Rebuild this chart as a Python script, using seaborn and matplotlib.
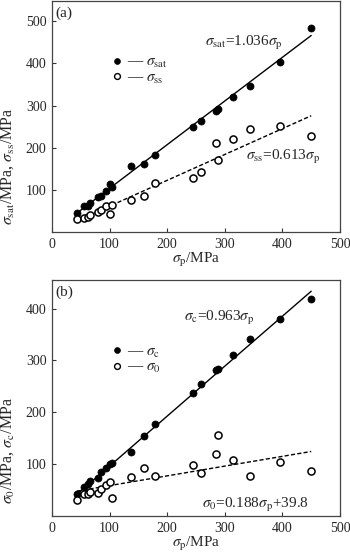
import numpy as np
import pandas as pd
import matplotlib
matplotlib.use("Agg")
import matplotlib.pyplot as plt
from matplotlib.lines import Line2D
import seaborn as sns

# ---- data ----
sigma_p = [43, 56, 62, 66, 79, 85, 94, 101, 105, 138, 160, 179,
           244, 258, 285, 288, 314, 344, 395, 449]
sigma_sat = [45, 61, 62, 68, 83, 86, 97, 113, 106, 157, 162, 182,
             249, 264, 286, 292, 320, 347, 403, 485]
sigma_ss = [31, 33, 35, 40, 47, 53, 61, 43, 65, 77, 86, 117,
            127, 142, 212, 170, 220, 245, 252, 227]
sigma_c = [43, 56, 61, 67, 74, 84, 92, 100, 103, 124, 155, 177,
           238, 254, 281, 284, 310, 342, 379, 418]
sigma_0 = [31, 43, 43, 47, 45, 52, 60, 66, 35, 76, 92, 77,
           99, 83, 119, 156, 108, 78, 105, 86]

fit_range = [43, 450]
slope_sat = 1.036
slope_ss = 0.613
slope_c = 0.963
slope_0, icpt_0 = 0.188, 39.8

sns.set_theme(style="ticks")
plt.rcParams['font.family'] = ['Liberation Serif', 'DejaVu Serif']
plt.rcParams['mathtext.fontset'] = 'stix'
plt.rcParams['font.size'] = 10.5

fig = plt.figure(figsize=(3.5, 5.55), dpi=100)
ax1 = fig.add_axes([52/350, 323/555, 288/350, 231/555])
ax2 = fig.add_axes([52/350, 39/555, 288/350, 236/555])

fx = np.array(fit_range, dtype=float)
lines_a = pd.DataFrame({'x': fx, 'sat': slope_sat*fx, 'ss': slope_ss*fx})
lines_b = pd.DataFrame({'x': fx, 'c': slope_c*fx, 'o': slope_0*fx + icpt_0})
df = pd.DataFrame({'p': sigma_p, 'sat': sigma_sat, 'ss': sigma_ss,
                   'c': sigma_c, 'o': sigma_0})

dash = (0, (3, 1.6))
ms = 26
TXT = 11

def panel(ax, filled, opened, lines, ylim, yticks):
    sns.lineplot(data=lines, x='x', y=filled, ax=ax, color='black', lw=1.0)
    sns.lineplot(data=lines, x='x', y=opened, ax=ax, color='black', lw=1.0,
                 linestyle=dash)
    sns.scatterplot(data=df, x='p', y=filled, ax=ax, color='black',
                    s=ms, edgecolor='black', linewidth=0.5, zorder=3)
    sns.scatterplot(data=df, x='p', y=opened, ax=ax, facecolor='white',
                    s=ms, edgecolor='black', linewidth=1.1, zorder=3)
    ax.set_xlim(0, 500)
    ax.set_ylim(*ylim)
    ax.set_xticks([0, 100, 200, 300, 400, 500])
    ax.set_yticks(yticks)
    ax.tick_params(direction='in', length=3, width=0.8, labelsize=10,
                   pad=4, color='#333333')
    for s in ax.spines.values():
        s.set_color('#444444')
        s.set_linewidth(0.9)
    ax.set_xlabel(r'$\sigma_{\rm p}$/MPa', fontsize=TXT, labelpad=0)

panel(ax1, 'sat', 'ss', lines_a, (0, 548), [100, 200, 300, 400, 500])
panel(ax2, 'c', 'o', lines_b, (0, 455), [100, 200, 300, 400])

ax1.set_ylabel(r'$\sigma_{\rm sat}$/MPa, $\sigma_{\rm ss}$/MPa', fontsize=11.5)
ax2.set_ylabel(r'$\sigma_{0}$/MPa, $\sigma_{\rm c}$/MPa', fontsize=11.5)
ax1.yaxis.set_label_coords(-0.125, 0.285)
ax2.yaxis.set_label_coords(-0.125, 0.278)

ax1.text(0.012, 0.975, '(a)', transform=ax1.transAxes, ha='left', va='top', fontsize=TXT)
ax2.text(0.012, 0.975, '(b)', transform=ax2.transAxes, ha='left', va='top', fontsize=TXT)

ax1.text(0.53, 0.82, r'$\sigma_{\rm sat}$=1.036$\sigma_{\rm p}$', transform=ax1.transAxes,
         ha='left', va='center', fontsize=TXT)
ax1.text(0.675, 0.325, r'$\sigma_{\rm ss}$=0.613$\sigma_{\rm p}$', transform=ax1.transAxes,
         ha='left', va='center', fontsize=TXT)
ax2.text(0.46, 0.84, r'$\sigma_{\rm c}$=0.963$\sigma_{\rm p}$', transform=ax2.transAxes,
         ha='left', va='center', fontsize=TXT)
ax2.text(0.52, 0.045, r'$\sigma_{0}$=0.188$\sigma_{\rm p}$+39.8', transform=ax2.transAxes,
         ha='left', va='center', fontsize=TXT)

def legend(ax, labels, anchor):
    h = [Line2D([], [], marker='o', ls='none', color='black', ms=4.2, mew=0.5),
         Line2D([], [], marker='o', ls='none', mfc='white', mec='black', ms=4.2, mew=1.0)]
    ax.legend(h, labels, loc='upper left', bbox_to_anchor=anchor, frameon=False,
              handlelength=0.8, handletextpad=0.3, labelspacing=0.05,
              borderpad=0, borderaxespad=0, fontsize=TXT)

legend(ax1, [r'— $\sigma_{\rm sat}$', r'— $\sigma_{\rm ss}$'], (0.203, 0.765))
legend(ax2, [r'— $\sigma_{\rm c}$', r'— $\sigma_{0}$'], (0.203, 0.725))

fig.savefig('out.png', dpi=100)
